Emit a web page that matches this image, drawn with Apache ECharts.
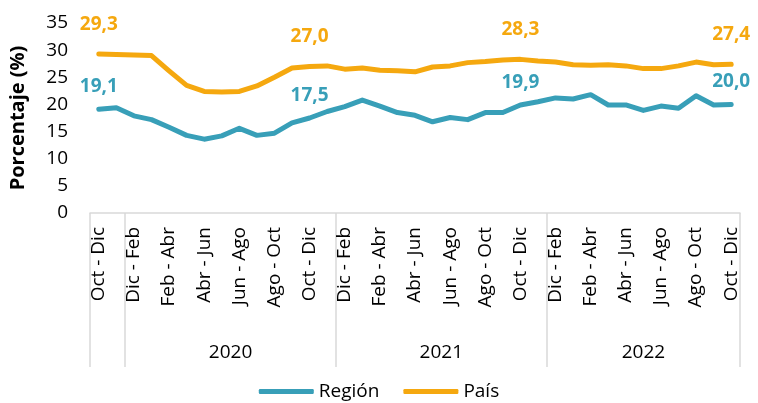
<!DOCTYPE html>
<html>
<head>
<meta charset="utf-8">
<script src="https://cdn.jsdelivr.net/npm/echarts@6/dist/echarts.min.js"></script>
<style>
  html, body { margin: 0; padding: 0; background: #fff; }
  #chart { width: 758px; height: 403px; }
</style>
</head>
<body>
<div id="chart"></div>
<script>
  // trimestres móviles, agrupados por año
  const periods = [
    'Oct - Dic', 'Nov - Ene',
    'Dic - Feb', 'Ene - Mar', 'Feb - Abr', 'Mar - May', 'Abr - Jun', 'May - Jul',
    'Jun - Ago', 'Jul - Sep', 'Ago - Oct', 'Sep - Nov', 'Oct - Dic', 'Nov - Ene',
    'Dic - Feb', 'Ene - Mar', 'Feb - Abr', 'Mar - May', 'Abr - Jun', 'May - Jul',
    'Jun - Ago', 'Jul - Sep', 'Ago - Oct', 'Sep - Nov', 'Oct - Dic', 'Nov - Ene',
    'Dic - Feb', 'Ene - Mar', 'Feb - Abr', 'Mar - May', 'Abr - Jun', 'May - Jul',
    'Jun - Ago', 'Jul - Sep', 'Ago - Oct', 'Sep - Nov', 'Oct - Dic'
  ]
  const years = ['', '2020', '2021', '2022']
  const yearSizes = [2, 12, 12, 11]

  const region = [
    19.1, 19.4, 17.9, 17.2, 15.8, 14.3, 13.6, 14.2, 15.6, 14.3, 14.7, 16.6, 17.5,
    18.7, 19.6, 20.8, 19.7, 18.5, 18.0, 16.8, 17.6, 17.2, 18.5, 18.5, 19.9,
    20.5, 21.2, 21.0, 21.8, 19.9, 19.9, 18.9, 19.7, 19.3, 21.6, 19.9, 20.0
  ]
  const pais = [
    29.3, 29.2, 29.1, 29.0, 26.2, 23.5, 22.4, 22.3, 22.4, 23.4, 25.0, 26.7, 27.0,
    27.1, 26.5, 26.7, 26.3, 26.2, 26.0, 26.9, 27.1, 27.7, 27.9, 28.2, 28.3,
    28.0, 27.8, 27.3, 27.2, 27.3, 27.1, 26.6, 26.6, 27.1, 27.8, 27.3, 27.4
  ]
  const labelIdx = [0, 12, 24, 36]

  const FONT = 'Open Sans'
  const TEAL = '#389FB8'
  const ORANGE = '#F5A80F'

  // límites y centros de los grupos de años (en unidades de categoría)
  const bounds = [0]
  yearSizes.forEach(n => bounds.push(bounds[bounds.length - 1] + n))
  const centers = []
  for (let i = 1; i < years.length; i++) centers.push((bounds[i] + bounds[i + 1]) / 2)

  const fmt = p => labelIdx.indexOf(p.dataIndex) >= 0 ? p.value.toFixed(1).replace('.', ',') : ''

  function lineSeries(name, data, color, dist) {
    return {
      name: name,
      type: 'line',
      data: data,
      symbol: 'circle',
      symbolSize: 0,
      showSymbol: true,
      color: color,
      lineStyle: { width: 5, color: color, cap: 'round', join: 'round' },
      label: {
        show: true,
        position: 'top',
        distance: dist,
        formatter: fmt,
        fontFamily: FONT,
        fontSize: 19,
        fontWeight: 'bold',
        color: color
      }
    }
  }

  const chart = echarts.init(document.getElementById('chart'))
  chart.setOption({
    animation: false,
    textStyle: { fontFamily: FONT },
    grid: { left: 90, right: 18, top: 23, bottom: 190 },
    legend: {
      data: ['Región', 'País'],
      top: 377,
      left: 'center',
      icon: 'roundRect',
      itemWidth: 55,
      itemHeight: 5,
      itemGap: 24,
      textStyle: { fontFamily: FONT, fontSize: 19, color: '#000' }
    },
    xAxis: [
      {
        type: 'category',
        data: periods,
        boundaryGap: true,
        axisLine: { lineStyle: { color: '#d9d9d9', width: 1.5 } },
        axisTick: { show: false },
        axisLabel: {
          interval: 1,
          rotate: 90,
          margin: 14,
          fontFamily: FONT,
          fontSize: 19,
          color: '#000'
        }
      },
      {
        type: 'value',
        position: 'bottom',
        min: 0,
        max: bounds[bounds.length - 1],
        axisLine: { show: false },
        splitLine: { show: false },
        axisTick: {
          show: true,
          customValues: bounds,
          length: 154,
          lineStyle: { color: '#d9d9d9', width: 1.5 }
        },
        axisLabel: {
          customValues: centers,
          margin: 130,
          fontFamily: FONT,
          fontSize: 19,
          color: '#000',
          formatter: v => years[centers.indexOf(v) + 1]
        }
      }
    ],
    yAxis: {
      type: 'value',
      min: 0,
      max: 35,
      interval: 5,
      name: 'Porcentaje (%)',
      nameLocation: 'middle',
      nameGap: 62,
      nameTextStyle: { fontFamily: FONT, fontSize: 20, fontWeight: 'bold', color: '#000' },
      axisLine: { show: false },
      axisTick: { show: false },
      splitLine: { show: false },
      axisLabel: { margin: 22, fontFamily: FONT, fontSize: 19, color: '#000' }
    },
    series: [
      lineSeries('Región', region, TEAL, 13),
      lineSeries('País', pais, ORANGE, 20)
    ]
  })
</script>
</body>
</html>
